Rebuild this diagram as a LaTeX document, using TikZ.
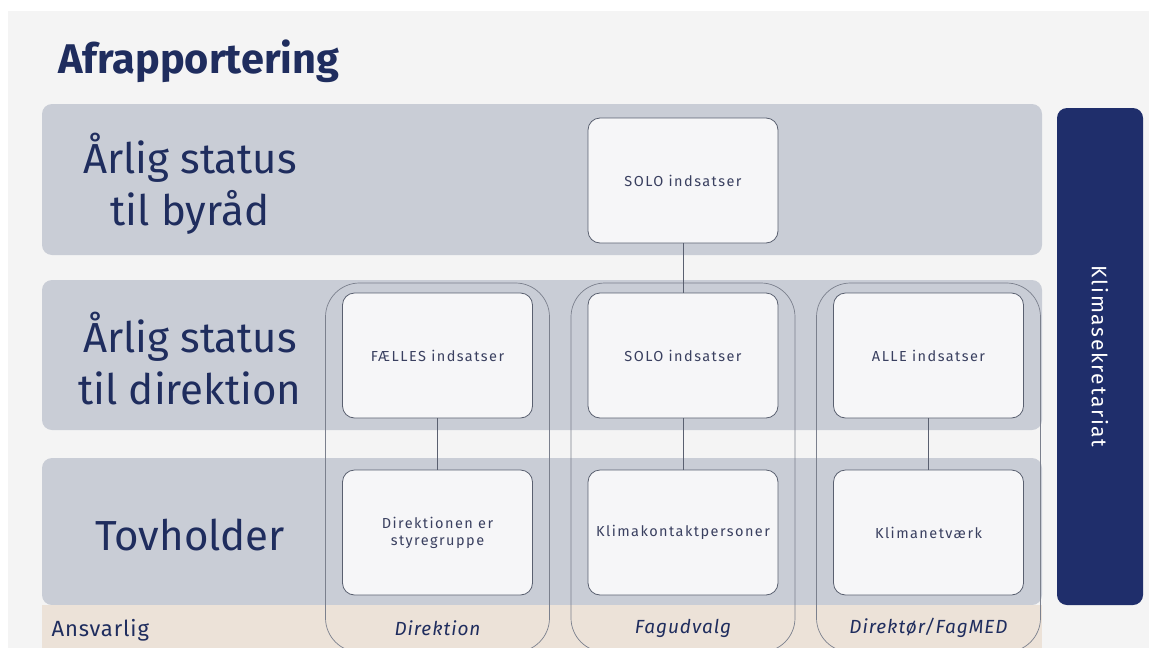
\documentclass[tikz,border=0pt]{standalone}
\usepackage{fontspec}
\setmainfont{Fira Sans}
\usetikzlibrary{positioning}
\definecolor{navy}{HTML}{1F2D5E}
\definecolor{barblue}{HTML}{1F2E6B}
\definecolor{bandgray}{HTML}{C9CDD6}
\definecolor{beige}{HTML}{ECE2D8}
\definecolor{panel}{HTML}{F4F4F4}
\definecolor{boxfill}{HTML}{F6F6F8}
\definecolor{boxline}{HTML}{5A6070}
\definecolor{boxtext}{HTML}{3A4060}
\tikzset{
    band/.style={fill=bandgray, rounded corners=10pt, minimum width=1000pt, inner sep=0pt},
    box/.style={draw=boxline, fill=boxfill, line width=0.8pt, rounded corners=12pt,
        minimum width=190pt, minimum height=125pt, align=center, text=boxtext,
        font=\fontsize{14.5}{17}\selectfont\addfontfeatures{LetterSpace=10}},
    group/.style={draw=boxline!80, line width=0.7pt, rounded corners=34pt},
    rowlabel/.style={text=navy, align=center, font=\fontsize{42}{52}\selectfont},
    who/.style={text=navy, font=\fontsize{19}{22}\selectfont\itshape\addfontfeatures{LetterSpace=5}},
    link/.style={draw=boxline, line width=0.8pt},
}
\begin{document}
\begin{tikzpicture}[x=1pt, y=-1pt]
    \useasboundingbox (0,0) rectangle (1149,648);
    \clip (0,0) rectangle (1149,648);
    \fill[white] (0,0) rectangle (1149,648);
    \fill[panel] (8,11) rectangle (1149,648);

    % title
    \node[anchor=base west, inner sep=0pt, text=navy, font=\fontsize{41.5}{48}\selectfont\bfseries]
        (title) at (58,73) {Afrapportering};

    % bands
    \node[band, minimum height=151pt] (byraad) at (542,179.5) {};
    \node[band, minimum height=150pt] (direk) at (542,355) {};
    \node[band, minimum height=147pt] (tov) at (542,531.5) {};
    \fill[beige] (42,605) rectangle (1042,648);

    \node[rowlabel] (lbyraad) at (190,184) {Årlig status\\til byråd};
    \node[rowlabel] (ldirek) at (190,359) {Årlig status\\til direktion};
    \node[rowlabel] (ltov) at (190,535) {Tovholder};
    \node[anchor=west, text=navy, font=\fontsize{22}{26}\selectfont\addfontfeatures{LetterSpace=4}]
        (ansvar) at (48,630) {Ansvarlig};

    % side bar
    \node[fill=barblue, rounded corners=10pt, minimum width=86pt, minimum height=497pt]
        (sekr) at (1100,356.5) {};
    \node[rotate=-90, text=white, font=\fontsize{21}{24}\selectfont\addfontfeatures{LetterSpace=8}]
        (lsekr) at (sekr) {Klimasekretariat};

    % top box
    \node[box] (solo) at (683,180.5) {SOLO indsatser};

    % columns
    \foreach \n/\x/\up/\down/\who in {
        1/437.5/{FÆLLES indsatser}/{Direktionen er\\styregruppe}/{Direktion},
        2/683/{SOLO indsatser}/{Klimakontaktpersoner}/{Fagudvalg},
        3/928.5/{ALLE indsatser}/{Klimanetværk}/{Direktør/FagMED}} {
        \draw[group] (\x-112,283) rectangle (\x+112,652);
        \node[box] (up\n) at (\x,355.5) {\up};
        \node[box] (down\n) at (\x,532.5) {\down};
        \node[who] (who\n) at (\x,628) {\who};
        \draw[link] (up\n) -- (down\n);
    }
    \draw[link] (solo) -- (up2);
\end{tikzpicture}
\end{document}
